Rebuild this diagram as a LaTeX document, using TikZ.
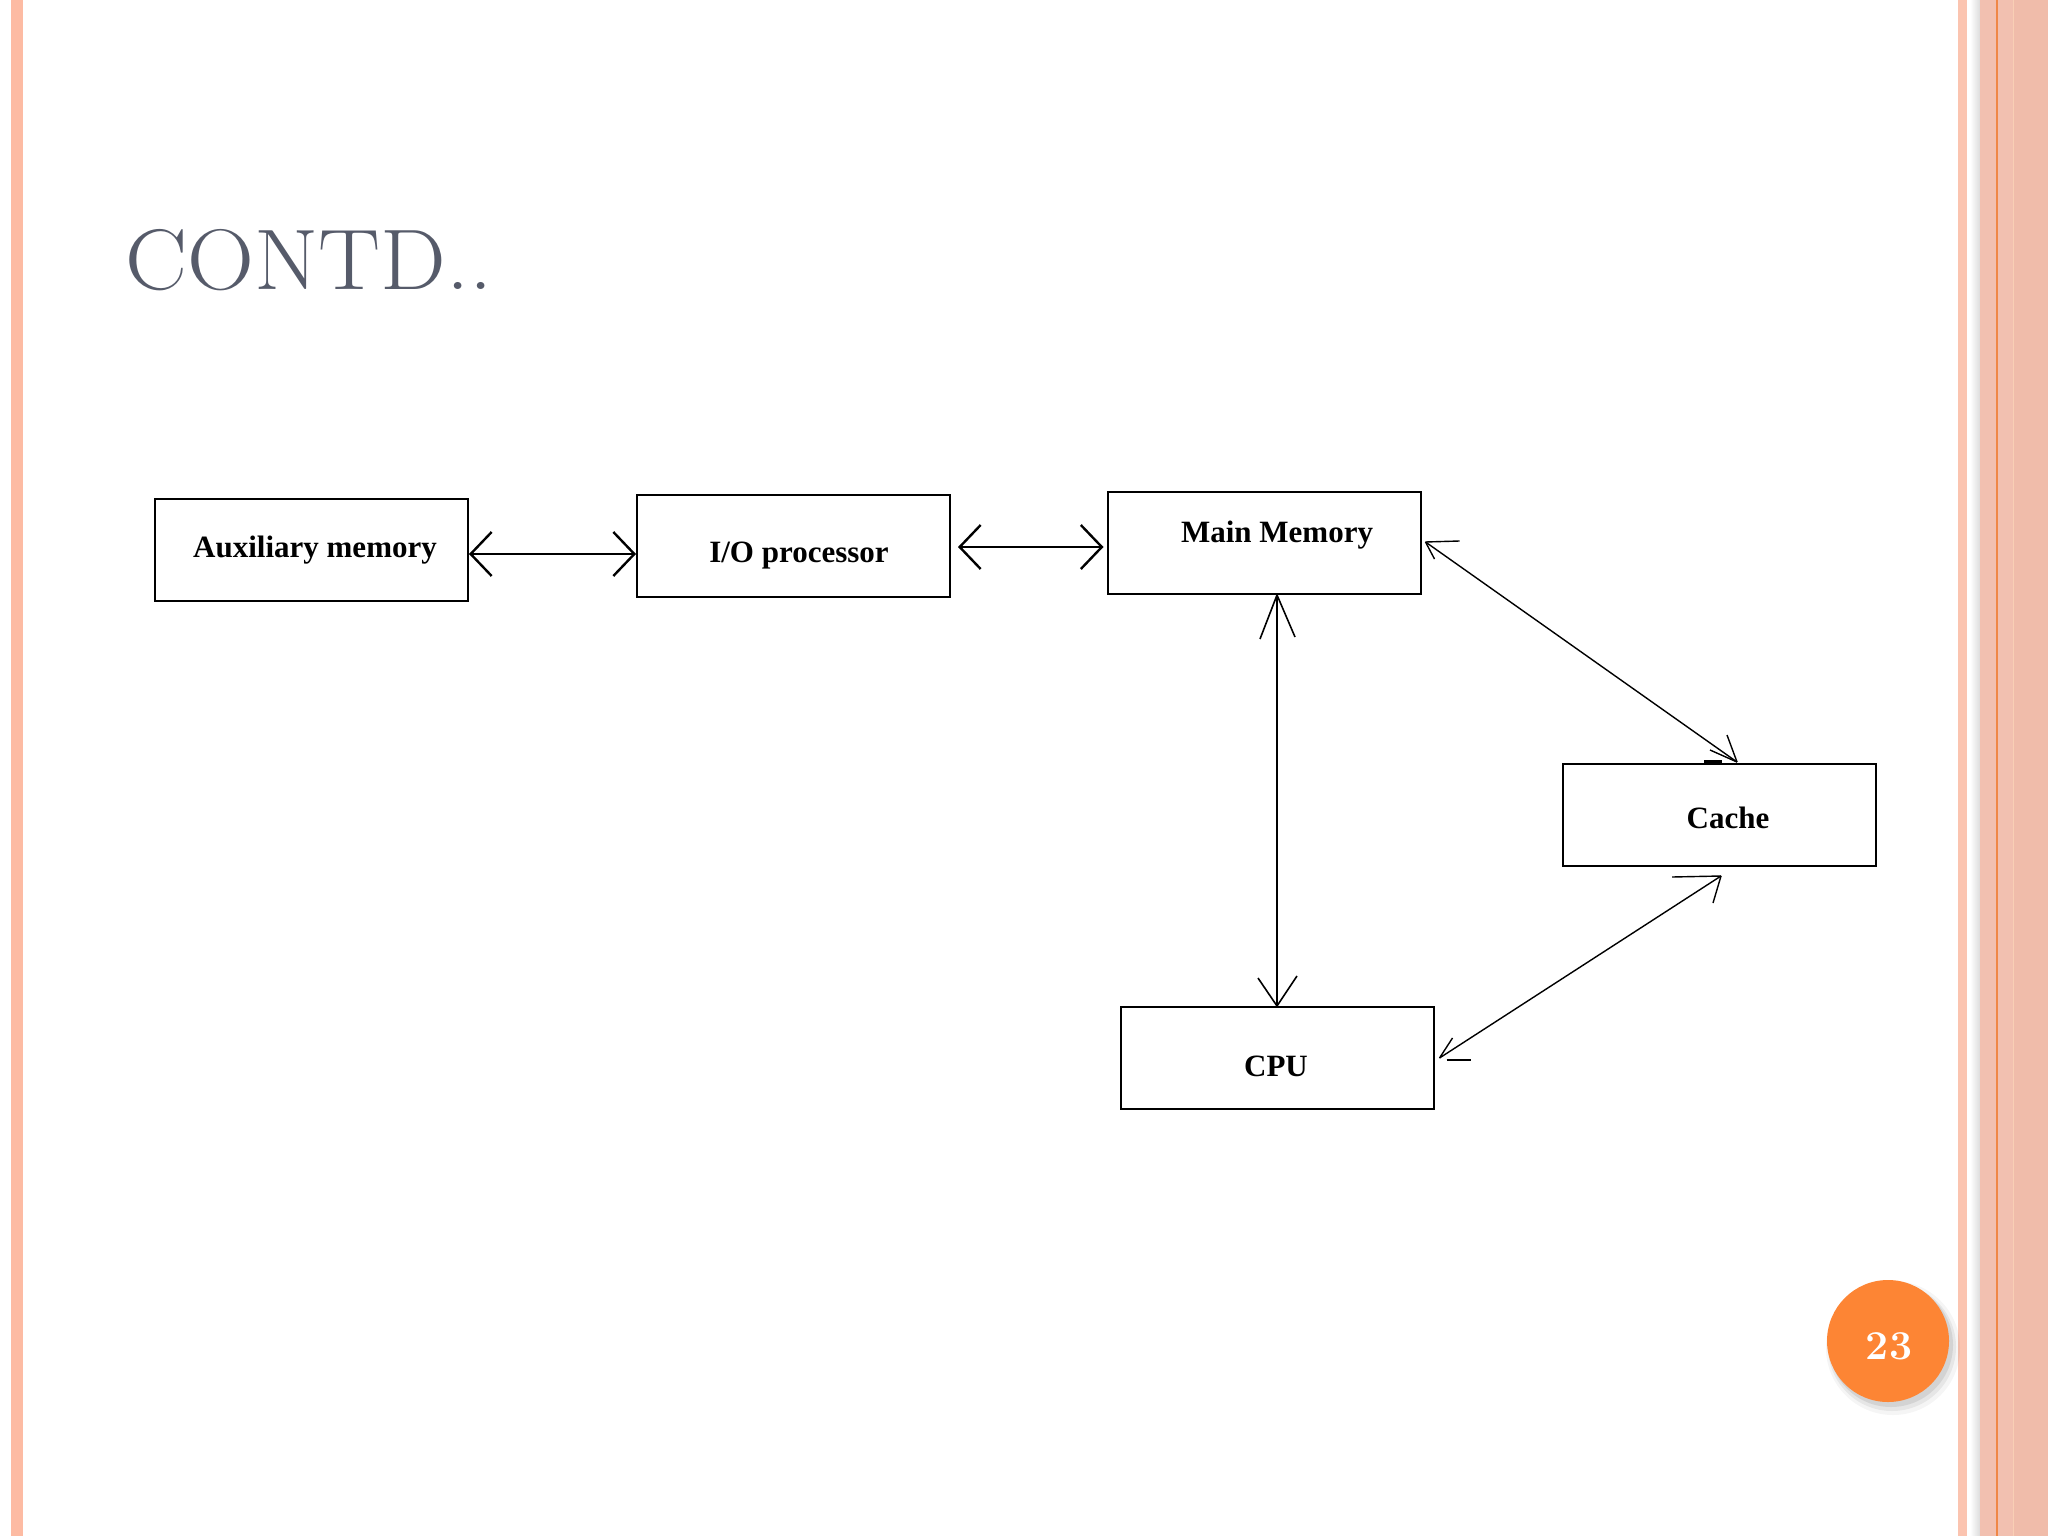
\documentclass[tikz,border=0pt]{standalone}
\usepackage{fontspec}
\newfontfamily\tnr{Liberation Serif}
\usetikzlibrary{arrows.meta,calc}
\definecolor{stripeL}{RGB}{253,187,163}
\definecolor{stripeRa}{RGB}{251,196,176}
\definecolor{stripeRb}{RGB}{242,192,176}
\definecolor{stripeRc}{RGB}{240,188,170}
\definecolor{orangeline}{RGB}{240,135,70}
\definecolor{titlegrey}{RGB}{86,91,106}
\definecolor{pgorange}{RGB}{253,133,52}
\begin{document}
\begin{tikzpicture}[x=1pt,y=-1pt,
  box/.style={draw=black,line width=2pt,minimum width=313pt,minimum height=102pt,inner sep=0pt},
  lbl/.style={font=\tnr\bfseries\fontsize{31}{31}\selectfont,anchor=base,inner sep=0pt},
  hconn/.style={line width=2.4pt,{Straight Barb[length=21pt,width=44pt]}-{Straight Barb[length=21pt,width=44pt]}},
  vline/.style={line width=1.6pt},
  dline/.style={line width=1.4pt},
]
\useasboundingbox (0,0) rectangle (2048,1536);
% background
\fill[white] (0,0) rectangle (2048,1536);
\fill[stripeL] (11,0) rectangle (23,1536);
\fill[stripeRa] (1958,0) rectangle (1967,1536);
\shade[left color=white,right color=black!14] (1970,0) rectangle (1980,1536);
\fill[stripeRb] (1980,0) rectangle (2048,1536);
\fill[stripeRc] (2013,0) rectangle (2048,1536);
\draw[orangeline,line width=1.8pt] (1997,0) -- (1997,1536);
\draw[orangeline!40,line width=1pt] (2013,0) -- (2013,1536);
% title
\node[anchor=base west,text=titlegrey,font=\fontsize{86}{90}\selectfont,inner sep=0pt] (title) at (125,289) {\scalebox{1.08}[1]{CONTD..}};
% boxes
\node[box] (aux) at (311.5,550) {};
\node[box] (io) at (793.5,545.5) {};
\node[box] (mm) at (1264,543) {};
\node[box] (cache) at (1719.5,815) {};
\node[box] (cpu) at (1277,1058) {};
% labels
\node[lbl] (auxt) at (315,557) {Auxiliary memory};
\node[lbl] (iot) at (799,562) {I/O processor};
\node[lbl] (mmt) at (1277,542) {Main Memory};
\node[lbl] (cachet) at (1728,828) {Cache};
\node[lbl] (cput) at (1276,1076) {CPU};
% horizontal connectors
\draw[hconn] ($(aux.east)+(0,4)$) -- ($(io.west)+(0,8.5)$);
\draw[hconn] ($(io.east)+(7,1.5)$) -- ($(mm.west)+(-3,4)$);
% vertical connector
\draw[vline] (cpu.north |- mm.south) coordinate (v1) -- (cpu.north) coordinate (v2);
\draw[vline] (v1) -- ++(-17,44);
\draw[vline] (v1) -- ++(18,42);
\draw[vline] (v2) -- ++(-19,-28);
\draw[vline] (v2) -- ++(20,-30);
% diagonal main memory - cache
\draw[dline] ($(mm.east)+(4,-1)$) coordinate (d1a) -- ($(cache.north)+(17.5,-1)$) coordinate (d1b);
\draw[dline] (d1a) -- ++(9,17);
\draw[dline] (d1a) -- ++(34,-1);
\draw[dline] (d1b) -- ++(-10,-27);
\draw[dline] (d1b) -- ++(-27,-12);
\fill ($(cache.north)+(-15.5,-3)$) rectangle ($(cache.north)+(2.5,1)$);
% diagonal cache - cpu
\draw[dline] ($(cache.south)+(1.5,9)$) coordinate (d2a) -- ($(cpu.east)+(5,0)$) coordinate (d2b);
\draw[dline] (d2a) -- ++(-49,1);
\draw[dline] (d2a) -- ++(-8,27);
\draw[dline] (d2b) -- ++(13,-20);
\draw[dline] ($(d2b)+(7,2)$) -- ++(24,0);
% page number
\fill[black,opacity=0.04] (1893,1348) circle (67);
\fill[black,opacity=0.06] (1892,1347) circle (64);
\fill[black,opacity=0.08] (1891,1345) circle (62);
\node[circle,fill=pgorange,minimum size=122pt,inner sep=0pt] (pg) at (1888,1341) {};
\node[text=white,font=\bfseries\fontsize{41}{41}\selectfont,anchor=base,inner sep=0pt] (pgt) at (1889,1359) {23};
\end{tikzpicture}
\end{document}
